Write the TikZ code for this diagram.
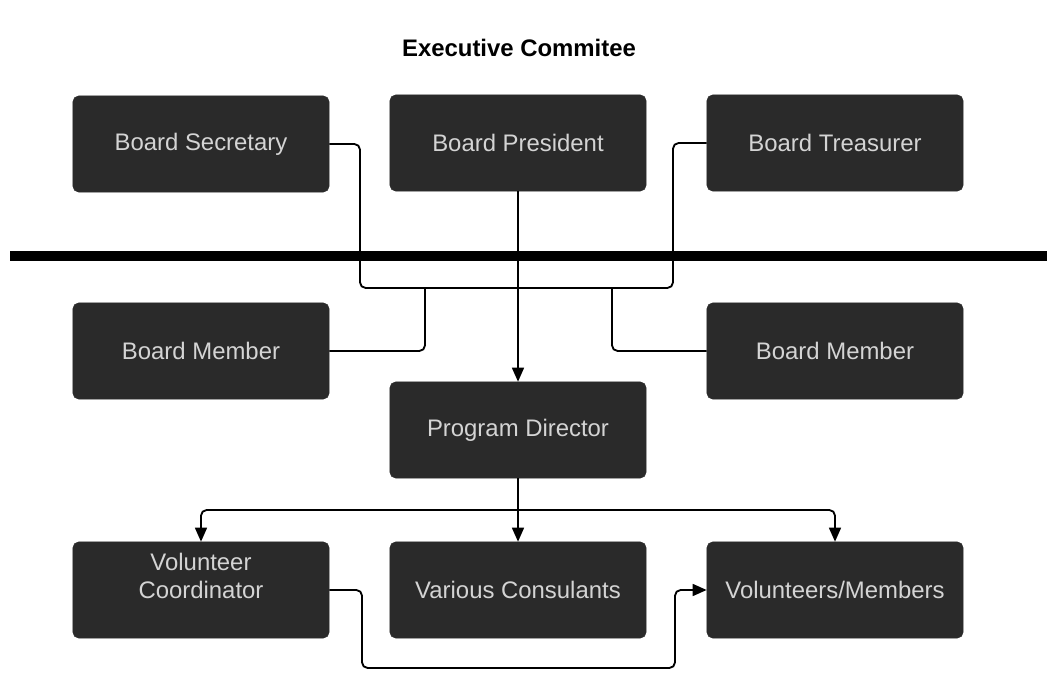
\documentclass[tikz,border=0pt]{standalone}
\usepackage{fontspec}
\setmainfont{Liberation Sans}
\usetikzlibrary{arrows.meta}
\definecolor{boxfill}{HTML}{2A2A2A}
\definecolor{boxtext}{HTML}{D4D4D4}
\tikzset{
	box/.style={fill=boxfill, draw=boxfill, rounded corners=4pt, minimum width=6.4cm, minimum height=2.4cm,
		text=boxtext, align=center, font=\fontsize{17}{20}\selectfont},
	conn/.style={line width=1.3pt, rounded corners=4pt},
	arr/.style={conn, -{Triangle[length=10pt,width=8.5pt]}}
}
\begin{document}
\begin{tikzpicture}[x=0.025cm, y=-0.025cm]
		\useasboundingbox (0,0) rectangle (1047,674);
		\node (title) at (519,48) {\fontsize{17}{20}\selectfont\bfseries Executive Commitee};

		% Executive committee
		\node[box] (sec) at (201,144) {Board Secretary};
		\node[box] (pres) at (518,143) {Board President};
		\node[box] (tre) at (835,143) {Board Treasurer};
		\draw[line width=7.5pt] (10,256) -- (1047,256);

		% Board
		\node[box] (mbl) at (201,351) {Board Member};
		\node[box] (mbr) at (835,351) {Board Member};
		\node[box] (pd) at (518,430) {Program Director};
		\coordinate (jl) at (360,288);
		\coordinate (jr) at (673,288);
		\coordinate (ml) at (425,288);
		\coordinate (mr) at (612,288);
		\draw[conn] (sec.east) -| (jl) -- (jr) |- (tre.west);
		\draw[conn] (mbl.east) -| (ml);
		\draw[conn] (mbr.west) -| (mr);
		\draw[arr] (pres.south) -- (pd.north);

		% Staff
		\node[box, text depth=0.72cm] (vc) at (201,590) {Volunteer\\Coordinator};
		\node[box] (cons) at (518,590) {Various Consulants};
		\node[box] (vm) at (835,590) {Volunteers/Members};
		\coordinate (split) at (518,510);
		\draw[conn] (pd.south) -- (split);
		\draw[arr] (split) -| (vc.north);
		\draw[arr] (split) -- (cons.north);
		\draw[arr] (split) -| (vm.north);
		\coordinate (bl) at (362,668);
		\coordinate (br) at (675,668);
		\draw[arr] (vc.east) -| (bl) -- (br) |- (vm.west);
	\end{tikzpicture}
\end{document}
